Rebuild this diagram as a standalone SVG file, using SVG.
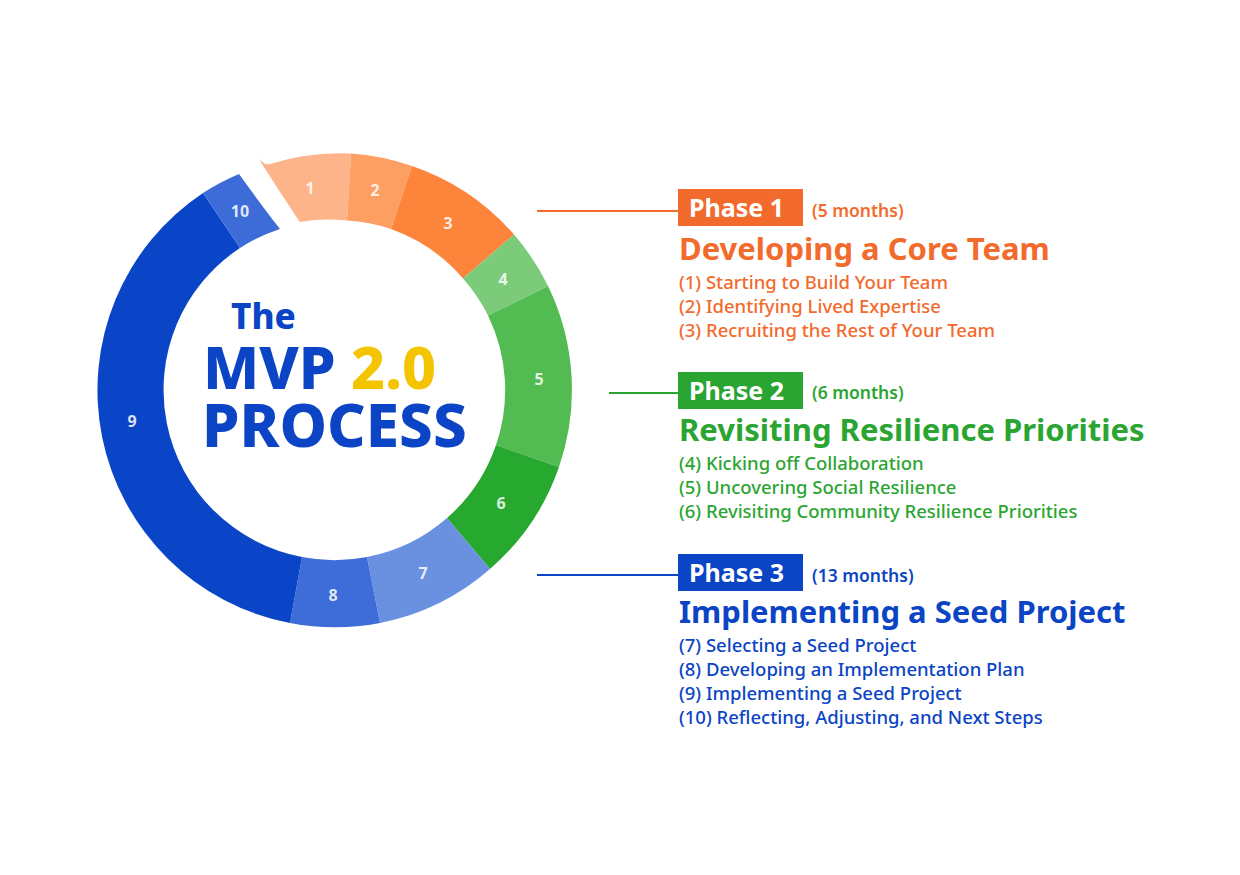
<svg xmlns="http://www.w3.org/2000/svg" width="1240" height="875" viewBox="0 0 1240 875">
<style>
text{font-family:"Noto Sans","Open Sans","Liberation Sans",sans-serif}
.num{font-size:16px;font-weight:700;fill:#fff;fill-opacity:0.85;text-anchor:middle}
.ph{font-size:25px;font-weight:700;fill:#fff}
.mo{font-size:17.5px;font-weight:600}
.hd{font-size:31px;font-weight:700}
.it{font-size:18.5px;font-weight:500}
.o{fill:#F26A2C}.g{fill:#2BA532}.b{fill:#0B44C4}
</style>
<rect width="1240" height="875" fill="#fff"/>
<g id="ring">
<path id="seg1" d="M255,153 Q262,166 270,164 A237,237 0 0 1 351,153.5 L347,220.5 A170,170 0 0 0 300,222 Q292,211 255,153Z" fill="#FDB48A"/>
<path id="seg2" d="M351,153.5 A237,237 0 0 1 412,166 L391,229 A170,170 0 0 0 347,220.5Z" fill="#FD9E63"/>
<path id="seg3" d="M412,166 A237,237 0 0 1 514,234.5 L463,278.5 A170,170 0 0 0 391,229Z" fill="#FD843B"/>
<path id="seg4" d="M514,234.5 A237,237 0 0 1 548,286 L488,315.5 A170,170 0 0 0 463,278.5Z" fill="#7CCB7A"/>
<path id="seg5" d="M548,286 A237,237 0 0 1 559,467 L496,445 A170,170 0 0 0 488,315.5Z" fill="#52BC52"/>
<path id="seg6" d="M559,467 A237,237 0 0 1 490,569 L447,518 A170,170 0 0 0 496,445Z" fill="#27A82E"/>
<path id="seg7" d="M490,569 A237,237 0 0 1 380,623 L367,557 A170,170 0 0 0 447,518Z" fill="#6A90E0"/>
<path id="seg8" d="M380,623 A237,237 0 0 1 290,623 L302,557 A170,170 0 0 0 367,557Z" fill="#3E6CD8"/>
<path id="seg9" d="M290,623 A237,237 0 0 1 203,193 L240,248 A170,170 0 0 0 302,557Z" fill="#0A45C8"/>
<path id="seg10" d="M203,193 A237,237 0 0 1 239,174 Q262,206 280,229 A170,170 0 0 0 240,248Z" fill="#3D6BD8"/>
<text class="num" x="310" y="194">1</text>
<text class="num" x="375" y="196">2</text>
<text class="num" x="448" y="229">3</text>
<text class="num" x="503" y="285">4</text>
<text class="num" x="539" y="385">5</text>
<text class="num" x="501" y="509">6</text>
<text class="num" x="423" y="579">7</text>
<text class="num" x="333" y="601">8</text>
<text class="num" x="132" y="427">9</text>
<text class="num" x="240" y="217">10</text>
</g>
<g id="title">
<text x="231" y="329" font-size="35" font-weight="800" fill="#0B44C4">The</text>
<text x="203" y="389" font-size="59" font-weight="800" fill="#0B44C4">MVP <tspan fill="#F5C400">2.0</tspan></text>
<text x="202" y="447" font-size="60" font-weight="800" fill="#0B44C4">PROCESS</text>
</g>
<g id="connectors" stroke-width="2">
<line x1="537" y1="211" x2="678" y2="211" stroke="#F26A2C"/>
<line x1="609" y1="393" x2="678" y2="393" stroke="#2BA532"/>
<line x1="537" y1="575" x2="678" y2="575" stroke="#0B44C4"/>
</g>
<g id="phase1">
<rect x="678" y="189" width="125" height="37" fill="#F26A2C"/>
<text class="ph" x="689" y="217">Phase 1</text>
<text class="mo o" x="812" y="217">(5 months)</text>
<text class="hd o" x="679" y="260">Developing a Core Team</text>
<text class="it o" x="679" y="289">(1) Starting to Build Your Team</text>
<text class="it o" x="679" y="313">(2) Identifying Lived Expertise</text>
<text class="it o" x="679" y="337">(3) Recruiting the Rest of Your Team</text>
</g>
<g id="phase2">
<rect x="678" y="372" width="125" height="37" fill="#2BA532"/>
<text class="ph" x="689" y="400">Phase 2</text>
<text class="mo g" x="812" y="399">(6 months)</text>
<text class="hd g" x="679" y="441">Revisiting Resilience Priorities</text>
<text class="it g" x="679" y="470">(4) Kicking off Collaboration</text>
<text class="it g" x="679" y="494">(5) Uncovering Social Resilience</text>
<text class="it g" x="679" y="518">(6) Revisiting Community Resilience Priorities</text>
</g>
<g id="phase3">
<rect x="678" y="554" width="125" height="37" fill="#0B44C4"/>
<text class="ph" x="689" y="582">Phase 3</text>
<text class="mo b" x="812" y="582">(13 months)</text>
<text class="hd b" x="679" y="623">Implementing a Seed Project</text>
<text class="it b" x="679" y="652">(7) Selecting a Seed Project</text>
<text class="it b" x="679" y="676">(8) Developing an Implementation Plan</text>
<text class="it b" x="679" y="700">(9) Implementing a Seed Project</text>
<text class="it b" x="679" y="724">(10) Reflecting, Adjusting, and Next Steps</text>
</g>
</svg>
